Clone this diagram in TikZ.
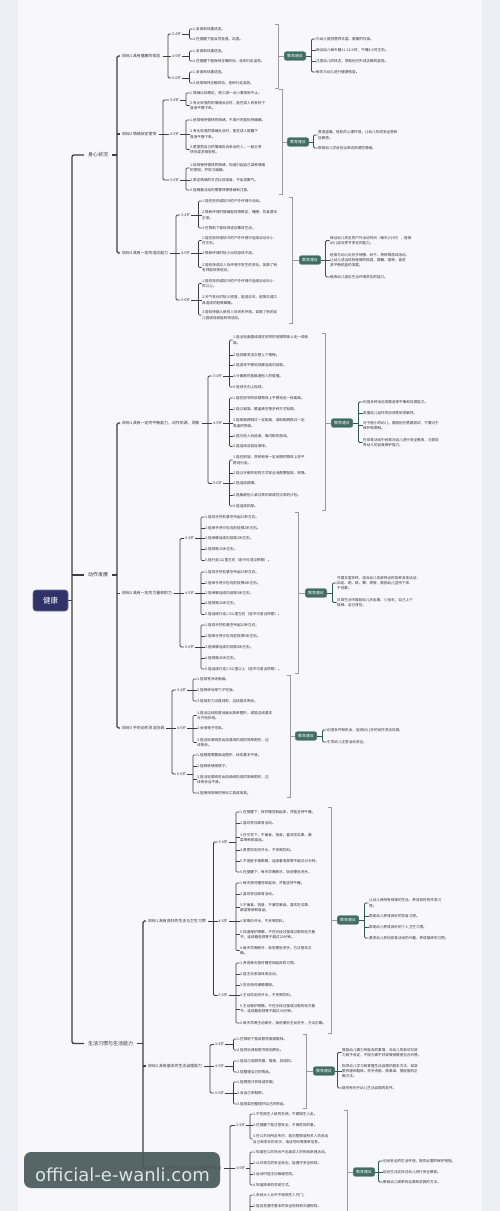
\documentclass[tikz,border=0pt]{standalone}
\usepackage{fontspec}
\setmainfont{Noto Sans CJK SC}
\newfontfamily\markfont{DejaVu Sans}
\usetikzlibrary{calc}

\definecolor{ink}{HTML}{333333}
\definecolor{wire}{HTML}{3E3E3E}
\definecolor{bracketgray}{HTML}{9B9B9B}
\definecolor{rootblue}{HTML}{30336A}
\definecolor{tealbox}{HTML}{3F6D61}
\definecolor{tealline}{HTML}{2F5A4F}
\definecolor{paper}{HTML}{F8F7F9}
\definecolor{sideband}{HTML}{ECEFF4}
\definecolor{markbox}{HTML}{4A5A5C}
\definecolor{marktext}{HTML}{DCE3E3}

\tikzset{
  leaf/.style={anchor=west, inner sep=0.5pt, align=left, text=ink, font=\fontsize{3.6}{5.3}\selectfont},
  age/.style={anchor=west, inner xsep=1pt, inner ysep=0.5pt, text=ink, font=\fontsize{3.6}{4}\selectfont},
  goal/.style={anchor=west, inner xsep=2pt, inner ysep=0.5pt, text=ink, font=\fontsize{3.9}{4.5}\selectfont},
  branch/.style={anchor=west, inner xsep=4pt, inner ysep=1pt, text=ink, font=\fontsize{5}{6}\selectfont},
  rootbox/.style={fill=rootblue, draw=rootblue!70!white, line width=0.6pt, rounded corners=3pt, text=white,
    minimum width=35pt, minimum height=21pt, font=\fontsize{7.5}{8}\selectfont},
  advice/.style={anchor=west, fill=tealbox, draw=tealbox!70!white, line width=0.4pt, rounded corners=2pt,
    text=white, inner xsep=3pt, inner ysep=2.5pt, font=\fontsize{3.9}{4}\selectfont},
  trunk/.style={draw=wire, line width=1.3pt, rounded corners=2pt},
  limb/.style={draw=wire, line width=1.1pt, rounded corners=1.5pt},
  twig/.style={draw=wire, line width=0.8pt, rounded corners=1.2pt},
  vein/.style={draw=wire, line width=0.55pt, rounded corners=1pt},
  tealfan/.style={draw=tealline, line width=0.9pt, rounded corners=1.2pt},
  sumline/.style={draw=bracketgray, line width=0.6pt},
}

% fan: style, gap, first child, last child, middle children
\newcommand{\fan}[5]{%
  \draw[#1] (#3.west) -- ++(-#2,0) |- (#4.west);%
  \if\relax\detokenize{#5}\relax\else
    \foreach \k in {#5}{\draw[#1] (\k.west) -- ++(-#2,0);}%
  \fi}
% feed: style, gap, parent, first child
\newcommand{\feed}[4]{%
  \draw[#1] (#3.east) -- ($(#3.east -| #4.west)+(-#2,0)$);}
% summary bracket: box, x, top, bottom
\newcommand{\sumbracket}[4]{%
  \coordinate (#1top) at (#2,#3);
  \coordinate (#1bot) at (#2,#4);
  \draw[sumline] ($(#1top)+(-3,0)$) -- (#1top) -- (#1bot) -- ++(-3,0);
  \draw[sumline] (#1top |- #1.west) -- (#1.west);}

\begin{document}
\begin{tikzpicture}[x=1pt,y=-1pt]

% Canvas
\useasboundingbox (0,0) rectangle (500,1211);
\fill[fill=sideband] (0,0) rectangle (500,1211);
\fill[fill=paper] (18,0) rectangle (482,1211);
\clip (0,0) rectangle (500,1211);

% Root and branches
\node[rootbox] (root) at (50.5,600.5) {健康};
\node[branch] (A) at (84,155) {身心状况};
\node[branch] (B) at (84,575) {动作发展};
\node[branch] (C) at (84,1043.5) {生活习惯与生活能力};
\feed{trunk}{12}{root}{A}
\fan{trunk}{12}{A}{C}{B}

% ---------- 身心状况 ----------
\node[goal] (A1) at (120,56) {目标1 具有健康的体态};
\node[goal] (A2) at (120,134) {目标2 情绪安定愉快};
\node[goal] (A3) at (120,253) {目标3 具有一定的适应能力};
\feed{limb}{3}{A}{A1}
\fan{limb}{3}{A1}{A3}{A2}

% A1 ages and items
\node[age] (A1a) at (171,34) {3-4岁};
\node[age] (A1b) at (171,56) {4-5岁};
\node[age] (A1c) at (171,78) {5-6岁};
\feed{twig}{3}{A1}{A1a}
\fan{twig}{3}{A1a}{A1c}{A1b}
\node[leaf] (A1a1) at (192.5,29) {1.身高和体重适宜。};
\node[leaf] (A1a2) at (192.5,39) {2.在提醒下能自然坐直、站直。};
\node[leaf] (A1b1) at (192.5,51) {1.身高和体重适宜。};
\node[leaf] (A1b2) at (192.5,61) {2.在提醒下能保持正确的站、坐和行走姿势。};
\node[leaf] (A1c1) at (192.5,72) {1.身高和体重适宜。};
\node[leaf] (A1c2) at (192.5,83) {2.经常保持正确的站、坐和行走姿势。};
\feed{vein}{3}{A1a}{A1a1} \fan{vein}{3}{A1a1}{A1a2}{}
\feed{vein}{3}{A1b}{A1b1} \fan{vein}{3}{A1b1}{A1b2}{}
\feed{vein}{3}{A1c}{A1c1} \fan{vein}{3}{A1c1}{A1c2}{}

% A1 advice
\node[advice] (A1s) at (284,56) {教育建议};
\sumbracket{A1s}{278}{24}{88}
\node[leaf] (A1s1) at (315.5,39) {为幼儿提供营养丰富、健康的饮食。};
\node[leaf] (A1s2) at (315.5,50) {保证幼儿每天睡11-12小时，午睡2小时左右。};
\node[leaf] (A1s3) at (315.5,61) {注意幼儿的体态，帮助他们形成正确的姿势。};
\node[leaf] (A1s4) at (315.5,72) {每年为幼儿进行健康检查。};
\feed{tealfan}{4}{A1s}{A1s1}
\fan{tealfan}{4}{A1s1}{A1s4}{A1s2,A1s3}

% A2 ages and items
\node[age] (A2a) at (169,100) {3-4岁};
\node[age] (A2b) at (169,134) {4-5岁};
\node[age] (A2c) at (169,180) {5-6岁};
\feed{twig}{6}{A2}{A2a}
\fan{twig}{6}{A2a}{A2c}{A2b}
\node[leaf] (A2a1) at (189.5,93) {1.情绪比较稳定，很少因一点小事哭闹不止。};
\node[leaf] (A2a2) at (189.5,105.5) {2.有比较强烈的情绪反应时，能在成人的安抚下\\逐渐平静下来。};
\node[leaf] (A2b1) at (189.5,120) {1.经常保持愉快的情绪，不高兴时能较快缓解。};
\node[leaf] (A2b2) at (189.5,134) {2.有比较强烈情绪反应时，能在成人提醒下\\逐渐平静下来。};
\node[leaf] (A2b3) at (189.5,149.5) {3.愿意把自己的情绪告诉亲近的人，一起分享\\快乐或求得安慰。};
\node[leaf] (A2c1) at (189.5,168) {1.经常保持愉快的情绪，知道引起自己某种情绪\\的原因，并努力缓解。};
\node[leaf] (A2c2) at (189.5,180) {2.表达情绪的方式比较适度，不乱发脾气。};
\node[leaf] (A2c3) at (189.5,190) {3.能随着活动的需要转换情绪和注意。};
\feed{vein}{3.5}{A2a}{A2a1} \fan{vein}{3.5}{A2a1}{A2a2}{}
\feed{vein}{3.5}{A2b}{A2b1} \fan{vein}{3.5}{A2b1}{A2b3}{A2b2}
\feed{vein}{3.5}{A2c}{A2c1} \fan{vein}{3.5}{A2c1}{A2c3}{A2c2}

% A2 advice
\node[advice] (A2s) at (287,142) {教育建议};
\sumbracket{A2s}{282}{89}{194}
\node[leaf] (A2s1) at (317.5,135) {营造温暖、轻松的心理环境，让幼儿形成安全感和\\信赖感。};
\node[leaf] (A2s2) at (317.5,148) {帮助幼儿学会恰当表达和调控情绪。};
\feed{tealfan}{4}{A2s}{A2s1}
\fan{tealfan}{4}{A2s1}{A2s2}{}

% A3 ages and items
\node[age] (A3a) at (180,215) {3-4岁};
\node[age] (A3b) at (180,253) {4-5岁};
\node[age] (A3c) at (180,300) {5-6岁};
\feed{twig}{4}{A3}{A3a}
\fan{twig}{4}{A3a}{A3c}{A3b}
\node[leaf] (A3a1) at (201.5,201) {1.能在较热或较冷的户外环境中活动。};
\node[leaf] (A3a2) at (201.5,215) {2.换新环境时情绪能较快稳定，睡眠、饮食基本\\正常。};
\node[leaf] (A3a3) at (201.5,228) {3.在帮助下能较快适应集体生活。};
\node[leaf] (A3b1) at (201.5,240.5) {1.能在较热或较冷的户外环境中连续活动半小\\时左右。};
\node[leaf] (A3b2) at (201.5,253) {2.换新环境时较少出现身体不适。};
\node[leaf] (A3b3) at (201.5,267.5) {3.能较快适应人际环境中发生的变化。如换了新\\老师能较快适应。};
\node[leaf] (A3c1) at (201.5,283.5) {1.能在较热或较冷的户外环境中连续活动半小\\时以上。};
\node[leaf] (A3c2) at (201.5,300) {2.天气变化时较少感冒，能适应车、船等交通工\\具造成的轻微颠簸。};
\node[leaf] (A3c3) at (201.5,315) {3.能较快融入新的人际关系环境。如换了新的幼\\儿园或班级能较快适应。};
\feed{vein}{3}{A3a}{A3a1} \fan{vein}{3}{A3a1}{A3a3}{A3a2}
\feed{vein}{3}{A3b}{A3b1} \fan{vein}{3}{A3b1}{A3b3}{A3b2}
\feed{vein}{3}{A3c}{A3c1} \fan{vein}{3}{A3c1}{A3c3}{A3c2}

% A3 advice
\node[advice] (A3s) at (299,260) {教育建议};
\sumbracket{A3s}{292}{197}{323}
\node[leaf] (A3s1) at (329.5,240.5) {保证幼儿充足的户外活动时间（每天2小时），提高\\幼儿适应季节变化的能力。};
\node[leaf] (A3s2) at (329.5,260) {经常与幼儿玩拉手转圈、秋千、转椅等游戏活动，\\让幼儿适当体验轻微的摇晃、颠簸、旋转，促进\\其平衡机能的发展。};
\node[leaf] (A3s3) at (329.5,277) {锻炼幼儿适应生活环境变化的能力。};
\feed{tealfan}{4}{A3s}{A3s1}
\fan{tealfan}{4}{A3s1}{A3s3}{A3s2}

% ---------- 动作发展 ----------
\node[goal] (B1) at (120,423) {目标1 具有一定的平衡能力，动作协调、灵敏};
\node[goal] (B2) at (120,593.5) {目标2 具有一定的力量和耐力};
\node[goal] (B3) at (120,728) {目标3 手的动作灵活协调};
\feed{limb}{3}{B}{B1}
\fan{limb}{3}{B1}{B3}{B2}

% B1 ages and items
\node[age] (B1a) at (212,376) {3-4岁};
\node[age] (B1b) at (212,423) {4-5岁};
\node[age] (B1c) at (212,483.5) {5-6岁};
\feed{twig}{4}{B1}{B1a}
\fan{twig}{4}{B1a}{B1c}{B1b}
\node[leaf] (B1a1) at (232.5,340) {1.能沿地面直线或在较窄的低矮物体上走一段距\\离。};
\node[leaf] (B1a2) at (232.5,355) {2.能双脚灵活交替上下楼梯。};
\node[leaf] (B1a3) at (232.5,365.5) {3.能身体平稳地双脚连续向前跳。};
\node[leaf] (B1a4) at (232.5,376) {4.分散跑时能躲避他人的碰撞。};
\node[leaf] (B1a5) at (232.5,387) {5.能双手向上抛球。};
\node[leaf] (B1b1) at (232.5,398) {1.能在较窄的低矮物体上平稳地走一段距离。};
\node[leaf] (B1b2) at (232.5,409) {2.能以匍匐、膝盖悬空等多种方式钻爬。};
\node[leaf] (B1b3) at (232.5,423) {3.能助跑跨跳过一定距离，或助跑跨跳过一定\\高度的物体。};
\node[leaf] (B1b4) at (232.5,436) {4.能与他人玩追逐、躲闪跑的游戏。};
\node[leaf] (B1b5) at (232.5,446.5) {5.能连续自抛自接球。};
\node[leaf] (B1c1) at (232.5,460) {1.能在斜坡、荡桥和有一定间隔的物体上较平\\稳地行走。};
\node[leaf] (B1c2) at (232.5,473) {2.能以手脚并用的方式安全地爬攀登架、网等。};
\node[leaf] (B1c3) at (232.5,483.5) {3.能连续跳绳。};
\node[leaf] (B1c4) at (232.5,495) {4.能躲避他人滚过来的球或扔过来的沙包。};
\node[leaf] (B1c5) at (232.5,506) {5.能连续拍球。};
\feed{vein}{3}{B1a}{B1a1} \fan{vein}{3}{B1a1}{B1a5}{B1a2,B1a3,B1a4}
\feed{vein}{3}{B1b}{B1b1} \fan{vein}{3}{B1b1}{B1b5}{B1b2,B1b3,B1b4}
\feed{vein}{3}{B1c}{B1c1} \fan{vein}{3}{B1c1}{B1c5}{B1c2,B1c3,B1c4}

% B1 advice
\node[advice] (B1s) at (331,423) {教育建议};
\sumbracket{B1s}{325}{333}{510}
\node[leaf] (B1s1) at (362.5,402) {利用多种活动发展身体平衡和协调能力。};
\node[leaf] (B1s2) at (362.5,413) {发展幼儿动作的协调性和灵敏性。};
\node[leaf] (B1s3) at (362.5,425.5) {对于胆小的幼儿，鼓励他们勇敢尝试，不要过于\\保护和限制。};
\node[leaf] (B1s4) at (362.5,442.5) {在体育活动中经常对幼儿进行安全教育，注意培\\养幼儿的自我保护能力。};
\feed{tealfan}{4}{B1s}{B1s1}
\fan{tealfan}{4}{B1s1}{B1s4}{B1s2,B1s3}

% B2 ages and items
\node[age] (B2a) at (184,538.5) {3-4岁};
\node[age] (B2b) at (184,593.5) {4-5岁};
\node[age] (B2c) at (184,647) {5-6岁};
\feed{twig}{4}{B2}{B2a}
\fan{twig}{4}{B2a}{B2c}{B2b}
\node[leaf] (B2a1) at (204.5,517) {1.能双手抓杠悬空吊起10秒左右。};
\node[leaf] (B2a2) at (204.5,528) {2.能单手将沙包向前投掷2米左右。};
\node[leaf] (B2a3) at (204.5,538.5) {3.能单脚连续向前跳2米左右。};
\node[leaf] (B2a4) at (204.5,549.5) {4.能快跑15米左右。};
\node[leaf] (B2a5) at (204.5,560.5) {5.能行走1公里左右（途中可适当停歇）。};
\node[leaf] (B2b1) at (204.5,572) {1.能双手抓杠悬空吊起15秒左右。};
\node[leaf] (B2b2) at (204.5,583) {2.能单手将沙包向前投掷4米左右。};
\node[leaf] (B2b3) at (204.5,593.5) {3.能单脚连续向前跳5米左右。};
\node[leaf] (B2b4) at (204.5,603.5) {4.能快跑20米左右。};
\node[leaf] (B2b5) at (204.5,614.5) {5.能连续行走1.5公里左右（途中可适当停歇）。};
\node[leaf] (B2c1) at (204.5,625) {1.能双手抓杠悬空吊起20秒左右。};
\node[leaf] (B2c2) at (204.5,636) {2.能单手将沙包向前投掷5米左右。};
\node[leaf] (B2c3) at (204.5,647) {3.能单脚连续向前跳8米左右。};
\node[leaf] (B2c4) at (204.5,658) {4.能快跑25米左右。};
\node[leaf] (B2c5) at (204.5,669) {5.能连续行走1.5公里以上（途中可适当停歇）。};
\feed{vein}{3.5}{B2a}{B2a1} \fan{vein}{3.5}{B2a1}{B2a5}{B2a2,B2a3,B2a4}
\feed{vein}{3.5}{B2b}{B2b1} \fan{vein}{3.5}{B2b1}{B2b5}{B2b2,B2b3,B2b4}
\feed{vein}{3.5}{B2c}{B2c1} \fan{vein}{3.5}{B2c1}{B2c5}{B2c2,B2c3,B2c4}

% B2 advice
\node[advice] (B2s) at (305,593) {教育建议};
\sumbracket{B2s}{298}{512}{673}
\node[leaf] (B2s1) at (336.5,583) {开展丰富多样、适合幼儿年龄特点的各种身体活动，\\如走、跑、跳、攀、爬等，鼓励幼儿坚持下来，\\不怕累。};
\node[leaf] (B2s2) at (336.5,602.5) {日常生活中鼓励幼儿多走路、少坐车；自己上下\\楼梯、自己背包。};
\feed{tealfan}{4}{B2s}{B2s1}
\fan{tealfan}{4}{B2s1}{B2s2}{}

% B3 ages and items
\node[age] (B3a) at (176,690) {3-4岁};
\node[age] (B3b) at (176,728) {4-5岁};
\node[age] (B3c) at (176,774) {5-6岁};
\feed{twig}{4}{B3}{B3a}
\fan{twig}{4}{B3a}{B3c}{B3b}
\node[leaf] (B3a1) at (196.5,679) {1.能用笔涂涂画画。};
\node[leaf] (B3a2) at (196.5,690) {2.能熟练地用勺子吃饭。};
\node[leaf] (B3a3) at (196.5,701) {3.能用剪刀沿直线剪，边线基本吻合。};
\node[leaf] (B3b1) at (196.5,715.5) {1.能沿边线较直地画出简单图形，或能边线基本\\对齐地折纸。};
\node[leaf] (B3b2) at (196.5,728) {2.会用筷子吃饭。};
\node[leaf] (B3b3) at (196.5,742.5) {3.能沿轮廓线剪出由直线构成的简单图形，边\\线吻合。};
\node[leaf] (B3c1) at (196.5,755) {1.能根据需要画出图形，线条基本平滑。};
\node[leaf] (B3c2) at (196.5,766) {2.能熟练使用筷子。};
\node[leaf] (B3c3) at (196.5,779.5) {3.能沿轮廓线剪出由曲线构成的简单图形，边\\线吻合且平滑。};
\node[leaf] (B3c4) at (196.5,793) {4.能使用简单的劳动工具或用具。};
\feed{vein}{3.5}{B3a}{B3a1} \fan{vein}{3.5}{B3a1}{B3a3}{B3a2}
\feed{vein}{3.5}{B3b}{B3b1} \fan{vein}{3.5}{B3b1}{B3b3}{B3b2}
\feed{vein}{3.5}{B3c}{B3c1} \fan{vein}{3.5}{B3c1}{B3c4}{B3c2,B3c3}

% B3 advice
\node[advice] (B3s) at (295,736) {教育建议};
\sumbracket{B3s}{290}{675}{797}
\node[leaf] (B3s1) at (326.5,730) {创造条件和机会，促进幼儿手的动作灵活协调。};
\node[leaf] (B3s2) at (326.5,742) {引导幼儿注意活动安全。};
\feed{tealfan}{4}{B3s}{B3s1}
\fan{tealfan}{4}{B3s1}{B3s2}{}

% ---------- 生活习惯与生活能力 ----------
\node[goal] (C1) at (146,921) {目标1 具有良好的生活与卫生习惯};
\node[goal] (C2) at (146,1066) {目标2 具有基本的生活自理能力};
\node[goal] (C3) at (146,1168) {目标3 具备基本的安全知识和自我保护能力};
\feed{limb}{3}{C}{C1}
\fan{limb}{3}{C1}{C3}{C2}

% C1 ages and items
\node[age] (C1a) at (217.5,842) {3-4岁};
\node[age] (C1b) at (217.5,921) {4-5岁};
\node[age] (C1c) at (217.5,995.5) {5-6岁};
\feed{twig}{4}{C1}{C1a}
\fan{twig}{4}{C1a}{C1c}{C1b}
\node[leaf] (C1a1) at (239.5,812) {1.在提醒下，按时睡觉和起床，并能坚持午睡。};
\node[leaf] (C1a2) at (239.5,823) {2.喜欢参加体育活动。};
\node[leaf] (C1a3) at (239.5,837.5) {3.在引导下，不偏食、挑食。喜欢吃瓜果、蔬\\菜等新鲜食品。};
\node[leaf] (C1a4) at (239.5,850) {4.愿意饮用白开水，不贪喝饮料。};
\node[leaf] (C1a5) at (239.5,861) {5.不用脏手揉眼睛，连续看电视等不超过15分钟。};
\node[leaf] (C1a6) at (239.5,872) {6.在提醒下，每天早晚刷牙、饭前便后洗手。};
\node[leaf] (C1b1) at (239.5,883) {1.每天按时睡觉和起床，并能坚持午睡。};
\node[leaf] (C1b2) at (239.5,894) {2.喜欢参加体育活动。};
\node[leaf] (C1b3) at (239.5,907.5) {3.不偏食、挑食，不暴饮暴食。喜欢吃瓜果、\\蔬菜等新鲜食品。};
\node[leaf] (C1b4) at (239.5,921) {4.常喝白开水，不贪喝饮料。};
\node[leaf] (C1b5) at (239.5,934.5) {5.知道保护眼睛，不在光线过强或过暗的地方看\\书，连续看电视等不超过20分钟。};
\node[leaf] (C1b6) at (239.5,950.5) {6.每天早晚刷牙、饭前便后洗手，方法基本正\\确。};
\node[leaf] (C1c1) at (239.5,963) {1.养成每天按时睡觉和起床的习惯。};
\node[leaf] (C1c2) at (239.5,974) {2.能主动参加体育活动。};
\node[leaf] (C1c3) at (239.5,985) {3.吃东西时细嚼慢咽。};
\node[leaf] (C1c4) at (239.5,995.5) {4.主动饮用白开水，不贪喝饮料。};
\node[leaf] (C1c5) at (239.5,1009) {5.主动保护眼睛。不在光线过强或过暗的地方看\\书，连续看电视等不超过30分钟。};
\node[leaf] (C1c6) at (239.5,1023) {6.每天早晚主动刷牙，饭前便后主动洗手，方法正确。};
\feed{vein}{3.5}{C1a}{C1a1} \fan{vein}{3.5}{C1a1}{C1a6}{C1a2,C1a3,C1a4,C1a5}
\feed{vein}{3.5}{C1b}{C1b1} \fan{vein}{3.5}{C1b1}{C1b6}{C1b2,C1b3,C1b4,C1b5}
\feed{vein}{3.5}{C1c}{C1c1} \fan{vein}{3.5}{C1c1}{C1c6}{C1c2,C1c3,C1c4,C1c5}

% C1 advice
\node[advice] (C1s) at (337,920) {教育建议};
\sumbracket{C1s}{331}{807}{1033}
\node[leaf] (C1s1) at (368.5,903) {让幼儿保持有规律的生活，养成良好的作息习\\惯。};
\node[leaf] (C1s2) at (368.5,916) {帮助幼儿养成良好的饮食习惯。};
\node[leaf] (C1s3) at (368.5,927) {帮助幼儿养成良好的个人卫生习惯。};
\node[leaf] (C1s4) at (368.5,938) {激发幼儿参加体育活动的兴趣，养成锻炼的习惯。};
\feed{tealfan}{4}{C1s}{C1s1}
\fan{tealfan}{4}{C1s1}{C1s4}{C1s2,C1s3}

% C2 ages and items
\node[age] (C2a) at (214,1044.5) {3-4岁};
\node[age] (C2b) at (214,1066) {4-5岁};
\node[age] (C2c) at (214,1093) {5-6岁};
\feed{twig}{4}{C2}{C2a}
\fan{twig}{4}{C2a}{C2c}{C2b}
\node[leaf] (C2a1) at (236.5,1039) {1.在帮助下能穿脱衣服或鞋袜。};
\node[leaf] (C2a2) at (236.5,1050) {2.能将玩具和图书放回原处。};
\node[leaf] (C2b1) at (236.5,1061) {1.能自己穿脱衣服、鞋袜、扣纽扣。};
\node[leaf] (C2b2) at (236.5,1072) {2.能整理自己的物品。};
\node[leaf] (C2c1) at (236.5,1082) {1.能根据冷热增减衣服。};
\node[leaf] (C2c2) at (236.5,1093) {2.会自己系鞋带。};
\node[leaf] (C2c3) at (236.5,1104) {3.能按类别整理好自己的物品。};
\feed{vein}{3}{C2a}{C2a1} \fan{vein}{3}{C2a1}{C2a2}{}
\feed{vein}{3}{C2b}{C2b1} \fan{vein}{3}{C2b1}{C2b2}{}
\feed{vein}{3}{C2c}{C2c1} \fan{vein}{3}{C2c1}{C2c3}{C2c2}

% C2 advice
\node[advice] (C2s) at (313,1071) {教育建议};
\sumbracket{C2s}{306}{1034}{1108}
\node[leaf] (C2s1) at (341.5,1052.5) {鼓励幼儿做力所能及的事情，对幼儿的尝试与努\\力给予肯定，不因为做不好或做得慢而包办代替。};
\node[leaf] (C2s2) at (341.5,1071) {指导幼儿学习和掌握生活自理的基本方法，如穿\\脱衣服和鞋袜、洗手洗脸、擦鼻涕、擦屁股的正\\确方法。};
\node[leaf] (C2s3) at (341.5,1088) {提供有利于幼儿生活自理的条件。};
\feed{tealfan}{4}{C2s}{C2s1}
\fan{tealfan}{4}{C2s1}{C2s3}{C2s2}

% C3 ages and items (runs past the lower edge)
\node[age] (C3a) at (235,1125.5) {3-4岁};
\node[age] (C3b) at (235,1168) {4-5岁};
\coordinate (C3tail) at (230,1216);
\feed{twig}{5}{C3}{C3a}
\draw[twig] (C3a.west) -- ++(-5,0) -- (C3tail);
\draw[twig] (C3b.west) -- ++(-5,0);
\node[leaf] (C3a1) at (252.5,1114) {1.不吃陌生人给的东西，不跟陌生人走。};
\node[leaf] (C3a2) at (252.5,1125.5) {2.在提醒下能注意安全，不做危险的事。};
\node[leaf] (C3a3) at (252.5,1139) {3.在公共场所走失时，能向警察或有关人员说出\\自己和家长的名字、电话号码等简单信息。};
\node[leaf] (C3b1) at (252.5,1152) {1.知道在公共场合不远离成人的视线单独活动。};
\node[leaf] (C3b2) at (252.5,1163) {2.认识常见的安全标志，能遵守安全规则。};
\node[leaf] (C3b3) at (252.5,1174) {3.运动时能主动躲避危险。};
\node[leaf] (C3b4) at (252.5,1185) {4.知道简单的求助方式。};
\node[leaf] (C3c1) at (252.5,1195) {1.未经大人允许不给陌生人开门。};
\node[leaf] (C3c2) at (252.5,1206) {2.能自觉遵守基本的安全规则和交通规则。};
\coordinate (C3ctail) at (250,1216);
\feed{vein}{2.5}{C3a}{C3a1} \fan{vein}{2.5}{C3a1}{C3a3}{C3a2}
\feed{vein}{2.5}{C3b}{C3b1} \fan{vein}{2.5}{C3b1}{C3b4}{C3b2,C3b3}
\draw[vein] (C3c1.west) -- ++(-2.5,0) -- (C3ctail);
\draw[vein] (C3c2.west) -- ++(-2.5,0);

% C3 advice
\node[advice] (C3s) at (353,1172) {教育建议};
\sumbracket{C3s}{347}{1110}{1216}
\node[leaf] (C3s1) at (382.5,1161) {创设安全的生活环境，提供必要的保护措施。};
\node[leaf] (C3s2) at (382.5,1172) {结合生活实际对幼儿进行安全教育。};
\node[leaf] (C3s3) at (382.5,1182) {教给幼儿简单的自救和求救的方法。};
\feed{tealfan}{4}{C3s}{C3s1}
\fan{tealfan}{4}{C3s1}{C3s3}{C3s2}

% Watermark
\fill[fill=markbox, fill opacity=0.93, rounded corners=7pt] (24,1152) rectangle (220,1188);
\node[anchor=base, inner sep=0pt, text=marktext, font=\markfont\fontsize{18}{20}\selectfont] (mark) at (122.5,1181) {official-e-wanli.com};

\end{tikzpicture}
\end{document}
